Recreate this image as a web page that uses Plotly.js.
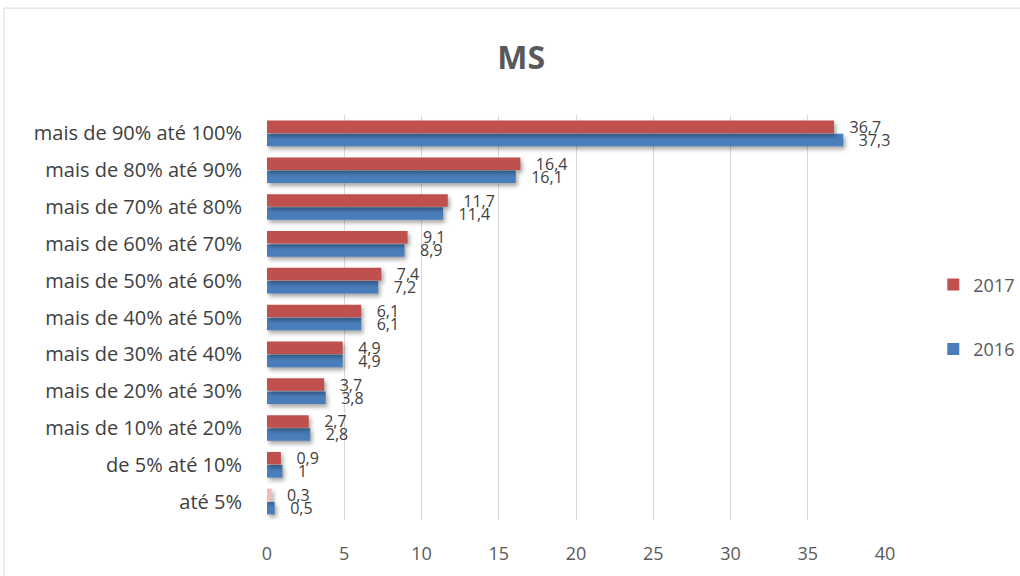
<!DOCTYPE html>
<html>
<head>
<meta charset="utf-8">
<script src="https://cdn.plot.ly/plotly-3.0.1.min.js"></script>
<style>
  html, body { margin: 0; padding: 0; background: #ffffff; }
  #chart { width: 1020px; height: 576px; }
  /* soft drop shadow under every bar */
  #chart .bars path { filter: drop-shadow(2px 3px 2px rgba(0,0,0,0.35)); }
</style>
</head>
<body>
<div id="chart"></div>
<script>
// Faixas (de baixo para cima)
const categories = [
  "até 5%",
  "de 5% até 10%",
  "mais de 10% até 20%",
  "mais de 20% até 30%",
  "mais de 30% até 40%",
  "mais de 40% até 50%",
  "mais de 50% até 60%",
  "mais de 60% até 70%",
  "mais de 70% até 80%",
  "mais de 80% até 90%",
  "mais de 90% até 100%"
];
const values2016 = [0.5, 1, 2.8, 3.8, 4.9, 6.1, 7.2, 8.9, 11.4, 16.1, 37.3];
const values2017 = [0.3, 0.9, 2.7, 3.7, 4.9, 6.1, 7.4, 9.1, 11.7, 16.4, 36.7];
const xTicks = [0, 5, 10, 15, 20, 25, 30, 35, 40];

const FONT = "'Open Sans', 'Noto Sans', sans-serif";
const PAD = "\u00a0\u00a0\u00a0";
const fmt = v => PAD + String(v).replace(".", ",");
const textFont = { family: FONT, size: 16, color: "#404040" };

const barCommon = {
  type: "bar", orientation: "h",
  textposition: "outside", cliponaxis: false, constraintext: "none",
  textfont: textFont, hoverinfo: "x+name"
};

const traces = [
  Object.assign({}, barCommon, {
    name: "2016", y: categories, x: values2016,
    text: values2016.map(fmt),
    marker: { color: "#4A7EBB" },
    offsetgroup: "g2016", legendgroup: "a", legendrank: 2
  }),
  // 2017: all ranges except the first
  Object.assign({}, barCommon, {
    name: "2017", y: categories.slice(1), x: values2017.slice(1),
    text: values2017.slice(1).map(fmt),
    marker: { color: "#C0504D" },
    offsetgroup: "g2017", legendgroup: "b", legendrank: 1
  }),
  // 2017, first range, drawn in a lighter tint
  Object.assign({}, barCommon, {
    name: "2017", y: categories.slice(0, 1), x: values2017.slice(0, 1),
    text: values2017.slice(0, 1).map(fmt),
    marker: { color: "#F2BABA" },
    offsetgroup: "g2017", legendgroup: "b", legendrank: 1, showlegend: false
  })
];

const layout = {
  width: 1020, height: 576,
  margin: { l: 267, r: 135, t: 115, b: 56 },
  paper_bgcolor: "#ffffff", plot_bgcolor: "#ffffff",
  font: { family: FONT, color: "#404040" },
  title: {
    text: "<b>MS</b>",
    font: { size: 32, color: "#595959", family: FONT },
    x: 0.511, xref: "container", xanchor: "center",
    y: 0.9, yref: "container", yanchor: "middle"
  },
  barmode: "group", bargap: 0.29, bargroupgap: 0.04,
  xaxis: {
    range: [0, 40], tickvals: xTicks, ticktext: xTicks.map(String),
    showgrid: true, gridcolor: "#D9D9D9", gridwidth: 1,
    zeroline: false, showline: false,
    ticks: "outside", ticklen: 17, tickcolor: "rgba(0,0,0,0)",
    tickfont: { size: 18, color: "#595959", family: FONT }
  },
  yaxis: {
    type: "category", categoryorder: "array", categoryarray: categories,
    showgrid: false, zeroline: false, showline: false,
    ticks: "outside", ticklen: 20, tickcolor: "rgba(0,0,0,0)",
    tickfont: { size: 20, color: "#404040", family: FONT }
  },
  legend: {
    traceorder: "grouped", tracegroupgap: 38,
    xref: "container", yref: "container",
    x: 0.915, xanchor: "left", y: 0.45, yanchor: "middle",
    font: { size: 18, color: "#595959", family: FONT },
    itemwidth: 30
  },
  shapes: [
    { type: "rect", xref: "paper", yref: "paper",
      x0: -0.4256, x1: 1.25, y0: -0.2, y1: 1.264,
      line: { color: "#D9D9D9", width: 1 }, fillcolor: "rgba(0,0,0,0)", layer: "below" }
  ],
  showlegend: true
};

Plotly.newPlot("chart", traces, layout, { displayModeBar: false, staticPlot: true });
</script>
</body>
</html>
